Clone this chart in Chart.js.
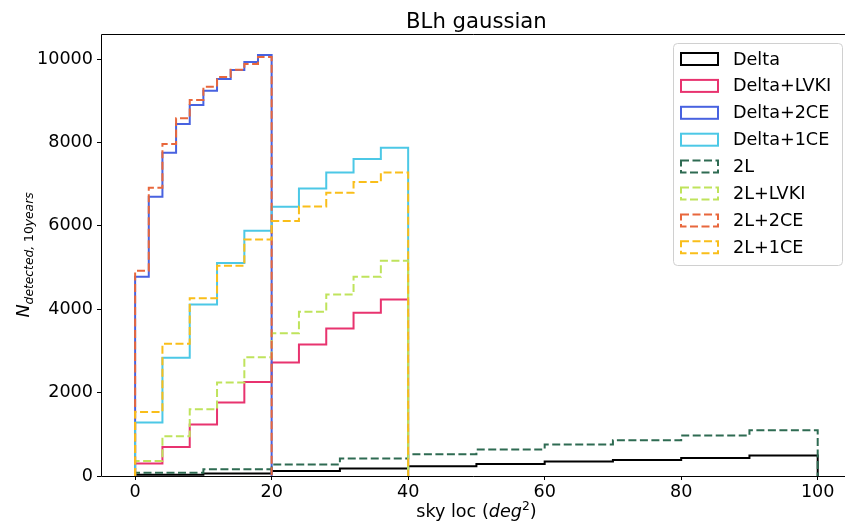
<!DOCTYPE html>
<html>
<head>
<meta charset="utf-8">
<script src="https://cdn.jsdelivr.net/npm/chart.js@4.4.1/dist/chart.umd.min.js"></script>
<style>
  html, body { margin: 0; padding: 0; background: #fff; overflow: hidden; }
</style>
</head>
<body>
<canvas id="chart" width="845" height="526"></canvas>
<script>
// bin edges
const edges2 = [0, 2, 4, 6, 8, 10, 12, 14, 16, 18, 20];
const edges4 = [0, 4, 8, 12, 16, 20, 24, 28, 32, 36, 40];
const edges10 = [0, 10, 20, 30, 40, 50, 60, 70, 80, 90, 100];

// counts per bin
const delta      = [30, 60, 120, 177, 233, 289, 345, 384, 432, 489];
const deltaLVKI  = [297, 697, 1233, 1761, 2256, 2721, 3153, 3537, 3913, 4233];
const delta2CE   = [4776, 6696, 7752, 8441, 8897, 9240, 9521, 9737, 9929, 10097];
const delta1CE   = [1281, 2833, 4113, 5110, 5880, 6456, 6897, 7281, 7600, 7872];
const twoL       = [75, 161, 273, 417, 521, 633, 753, 857, 969, 1097];
const twoLLVKI   = [360, 953, 1601, 2241, 2849, 3425, 3937, 4353, 4777, 5161];
const twoL2CE    = [4920, 6912, 7961, 8577, 9017, 9336, 9569, 9740, 9881, 10050];
const twoL1CE    = [1537, 3169, 4265, 5040, 5673, 6113, 6465, 6792, 7049, 7281];

const xTicks = [0, 20, 40, 60, 80, 100];
const yTicks = [0, 2000, 4000, 6000, 8000, 10000];

const FONT = "'DejaVu Sans', sans-serif";
const DASH = [8, 3.5];

// matplotlib-like step outline: up at first edge, across each bin, down at last edge
function stepPoints(edges, counts) {
  const pts = [{x: edges[0], y: 0}];
  counts.forEach((c, i) => pts.push({x: edges[i], y: c}));
  pts.push({x: edges[edges.length - 1], y: 0});
  return pts;
}

function hist(label, edges, counts, color, dashed, idx) {
  return {
    label: label,
    data: stepPoints(edges, counts),
    borderColor: color,
    backgroundColor: 'rgba(0,0,0,0)',
    borderWidth: 2,
    borderDash: dashed ? DASH : [],
    borderJoinStyle: 'miter',
    borderCapStyle: 'butt',
    stepped: 'before',
    pointRadius: 0,
    pointHoverRadius: 0,
    fill: false,
    order: 10 - idx
  };
}

const decor = {
  id: 'decor',
  afterDatasetsDraw(chart) {
    const {ctx, chartArea: a} = chart;
    const l = Math.round(a.left) + 0.5, t = Math.round(a.top) + 0.5, b = Math.round(a.bottom) + 0.5;
    ctx.save();
    ctx.strokeStyle = '#000';
    ctx.lineWidth = 1;
    ctx.beginPath();
    ctx.moveTo(a.right, t);
    ctx.lineTo(l, t);
    ctx.lineTo(l, b);
    ctx.lineTo(a.right, b);
    ctx.stroke();
    ctx.restore();
  },
  afterDraw(chart) {
    const {ctx, chartArea: a} = chart;
    // plot spans x -5..105 in the original, the right part is cut off
    const cx = (a.left + chart.scales.x.getPixelForValue(105)) / 2;
    ctx.save();
    ctx.fillStyle = '#000';

    // title
    ctx.font = '21.2px ' + FONT;
    ctx.textAlign = 'center';
    ctx.textBaseline = 'alphabetic';
    ctx.fillText('BLh gaussian', cx, 28);

    // x label: sky loc (deg^2)
    const xParts = [
      ['sky loc (', 'normal 17.6px ' + FONT, 0],
      ['deg', 'italic 17.6px ' + FONT, 0],
      ['2', 'normal 12.3px ' + FONT, -7],
      [')', 'normal 17.6px ' + FONT, 0]
    ];
    drawParts(ctx, xParts, cx, 517);

    // y label: N_{detected, 10years}
    ctx.save();
    ctx.translate(28.5, (a.top + a.bottom) / 2);
    ctx.rotate(-Math.PI / 2);
    const yParts = [
      ['N', 'italic 17.6px ' + FONT, 0],
      ['detected,', 'italic 12.3px ' + FONT, 4],
      [' 10', 'normal 12.3px ' + FONT, 4],
      ['years', 'italic 12.3px ' + FONT, 4]
    ];
    drawParts(ctx, yParts, 0, 0);
    ctx.restore();

    // legend
    const lx = 673.5, ly = 43.5, lw = 169, lh = 222;
    ctx.beginPath();
    ctx.roundRect(lx, ly, lw, lh, 4);
    ctx.fillStyle = 'rgba(255,255,255,0.8)';
    ctx.fill();
    ctx.strokeStyle = '#d0d0d0';
    ctx.lineWidth = 1;
    ctx.stroke();

    chart.data.datasets.forEach((ds, i) => {
      const y = 59 + i * 26.9;
      ctx.strokeStyle = ds.borderColor;
      ctx.lineWidth = 2;
      ctx.setLineDash(ds.borderDash);
      ctx.strokeRect(681, y - 6, 37, 12);
      ctx.setLineDash([]);
      ctx.fillStyle = '#000';
      ctx.font = '17.6px ' + FONT;
      ctx.textAlign = 'left';
      ctx.textBaseline = 'middle';
      ctx.fillText(ds.label, 733, y + 1);
    });
    ctx.restore();
  }
};

function drawParts(ctx, parts, centerX, baseY) {
  let total = 0;
  parts.forEach(p => { ctx.font = p[1]; total += ctx.measureText(p[0]).width; });
  let x = centerX - total / 2;
  ctx.textAlign = 'left';
  ctx.textBaseline = 'alphabetic';
  parts.forEach(p => {
    ctx.font = p[1];
    ctx.fillText(p[0], x, baseY + p[2]);
    x += ctx.measureText(p[0]).width;
  });
}

new Chart(document.getElementById('chart'), {
  type: 'line',
  data: {
    datasets: [
      hist('Delta', edges10, delta, '#000000', false, 0),
      hist('Delta+LVKI', edges4, deltaLVKI, '#e8336f', false, 1),
      hist('Delta+2CE', edges2, delta2CE, '#4862e0', false, 2),
      hist('Delta+1CE', edges4, delta1CE, '#4cc8e6', false, 3),
      hist('2L', edges10, twoL, '#2e6b52', true, 4),
      hist('2L+LVKI', edges4, twoLLVKI, '#bfe35c', true, 5),
      hist('2L+2CE', edges2, twoL2CE, '#e8673c', true, 6),
      hist('2L+1CE', edges4, twoL1CE, '#f9be1a', true, 7)
    ]
  },
  options: {
    responsive: false,
    animation: false,
    devicePixelRatio: 1,
    layout: { padding: { top: 34, left: 0, right: 0, bottom: 0 } },
    plugins: {
      legend: { display: false },
      title: { display: false },
      tooltip: { enabled: false }
    },
    scales: {
      x: {
        type: 'linear',
        min: -5,
        max: 104,
        afterBuildTicks: s => { s.ticks = xTicks.map(v => ({value: v})); },
        afterFit: s => { s.height = 50; },
        grid: { drawOnChartArea: false, drawTicks: true, tickLength: 4, color: '#000' },
        border: { display: false },
        ticks: { color: '#000', font: { family: FONT, size: 17.6 }, padding: 2, maxRotation: 0,
                 callback: v => String(v) }
      },
      y: {
        type: 'linear',
        min: 0,
        max: 10600,
        afterBuildTicks: s => { s.ticks = yTicks.map(v => ({value: v})); },
        afterFit: s => { s.width = 101; },
        grid: { drawOnChartArea: false, drawTicks: true, tickLength: 4, color: '#000' },
        border: { display: false },
        ticks: { color: '#000', font: { family: FONT, size: 17.6 }, padding: 4,
                 callback: v => String(v) }
      }
    }
  },
  plugins: [decor]
});
</script>
</body>
</html>
